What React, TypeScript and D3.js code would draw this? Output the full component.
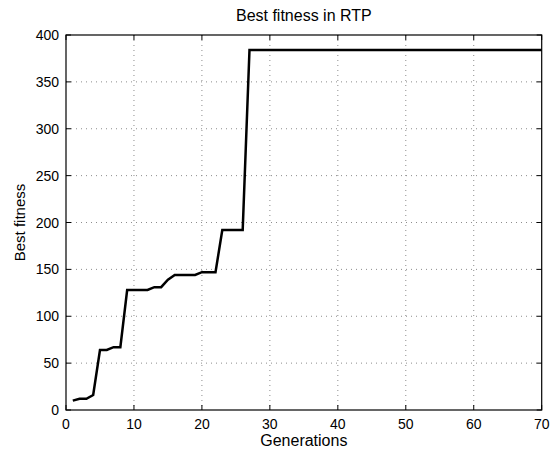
import React from "react";
import * as d3 from "d3";

const generations: number[] = Array.from({ length: 70 }, (_, i) => i + 1);
const bestFitness: number[] = [
  10, 12, 12, 16, 64, 64, 67, 67, 128, 128,
  128, 128, 131, 131, 139, 144, 144, 144, 144, 147,
  147, 147, 192, 192, 192, 192, 384, 384, 384, 384,
  384, 384, 384, 384, 384, 384, 384, 384, 384, 384,
  384, 384, 384, 384, 384, 384, 384, 384, 384, 384,
  384, 384, 384, 384, 384, 384, 384, 384, 384, 384,
  384, 384, 384, 384, 384, 384, 384, 384, 384, 384,
];
const xTicks: number[] = [0, 10, 20, 30, 40, 50, 60, 70];
const yTicks: number[] = [0, 50, 100, 150, 200, 250, 300, 350, 400];
const titleText = "Best fitness in RTP";
const xLabelText = "Generations";
const yLabelText = "Best fitness";

const W = 553;
const H = 450;
const L = 66, R = 541.7, T = 35, B = 410;
const FONT = "'Liberation Sans', Arial, Helvetica, sans-serif";

export default function App() {
  const x = d3.scaleLinear().domain([0, 70]).range([L, R]);
  const y = d3.scaleLinear().domain([0, 400]).range([B, T]);
  const line = d3
    .line<number>()
    .x((_, i) => x(generations[i]))
    .y((d) => y(d));
  const tl = 5;
  return (
    <svg
      width={W}
      height={H}
      style={{ position: "absolute", left: 0, top: 0, background: "#fff" }}
      fontFamily={FONT}
    >
      <rect x={0} y={0} width={W} height={H} fill="#fff" />
      {/* grid */}
      {xTicks.slice(1, -1).map((t) => (
        <line key={"gx" + t} x1={x(t)} x2={x(t)} y1={T} y2={B} stroke="#8c8c8c" strokeWidth={1} strokeDasharray="1,4" />
      ))}
      {yTicks.slice(1, -1).map((t) => (
        <line key={"gy" + t} x1={L} x2={R} y1={y(t)} y2={y(t)} stroke="#8c8c8c" strokeWidth={1} strokeDasharray="1,4" />
      ))}
      {/* ticks */}
      {xTicks.map((t) => (
        <g key={"tx" + t}>
          <line x1={x(t)} x2={x(t)} y1={B} y2={B - tl} stroke="#000" />
          <line x1={x(t)} x2={x(t)} y1={T} y2={T + tl} stroke="#000" />
          <text x={x(t)} y={429} textAnchor="middle" fontSize={14}>{t}</text>
        </g>
      ))}
      {yTicks.map((t) => (
        <g key={"ty" + t}>
          <line x1={L} x2={L + tl} y1={y(t)} y2={y(t)} stroke="#000" />
          <line x1={R} x2={R - tl} y1={y(t)} y2={y(t)} stroke="#000" />
          <text x={59} y={y(t) + 5} textAnchor="end" fontSize={14}>{t}</text>
        </g>
      ))}
      {/* data */}
      <path d={line(bestFitness) || ""} fill="none" stroke="#000" strokeWidth={2.5} strokeLinejoin="miter" />
      {/* box */}
      <rect x={L} y={T} width={R - L} height={B - T} fill="none" stroke="#000" strokeWidth={1.2} />
      {/* labels */}
      <text x={(L + R) / 2} y={21} textAnchor="middle" fontSize={16}>{titleText}</text>
      <text x={(L + R) / 2} y={446} textAnchor="middle" fontSize={16}>{xLabelText}</text>
      <text transform={`translate(25,${(T + B) / 2}) rotate(-90)`} textAnchor="middle" fontSize={15}>{yLabelText}</text>
    </svg>
  );
}
